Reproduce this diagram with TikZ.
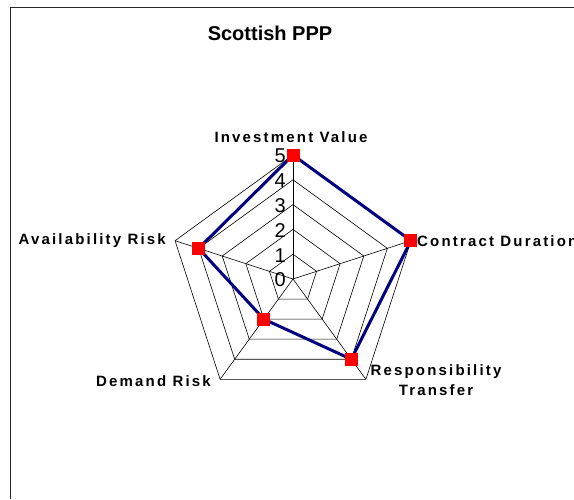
\documentclass[tikz,border=0pt]{standalone}
\usepackage{fontspec}
\setmainfont{Liberation Sans}
\definecolor{navyline}{RGB}{0,0,128}
\begin{document}
\begin{tikzpicture}[x=1pt,y=-1pt,
  gridline/.style={black, line width=0.6pt, line join=miter},
  series/.style={draw=navyline, line width=3pt, line join=round},
  marker/.style={fill=red, minimum size=13pt, inner sep=0pt, draw=none},
  axlabel/.style={font=\fontsize{15}{18}\selectfont\bfseries\addfontfeature{LetterSpace=14.5}, inner sep=0pt, align=center},
  scalelabel/.style={font=\fontsize{20}{22}\selectfont, inner sep=0pt, anchor=east},
  titlelabel/.style={font=\fontsize{20}{22}\selectfont\bfseries, inner sep=0pt}]
\useasboundingbox (0,0) rectangle (574,499);
\fill[white] (0,0) rectangle (574,499);
\coordinate (fbl) at (10,499);
\coordinate (ftl) at (10,7);
\coordinate (ftr) at (574,7);
\draw[line width=1pt, black!85] (fbl) -- (ftl) -- (ftr);
\node[titlelabel] (title) at (270,33) {Scottish PPP};
\begin{scope}[shift={(293,279)}]
  \coordinate (O) at (0,0);
  \foreach \k in {0,...,4} {
    \pgfmathsetmacro{\ang}{90-72*\k}
    \coordinate (ax\k) at (\ang:124pt);
  }
  \foreach \l in {1,...,5} {
    \pgfmathsetmacro{\rr}{\l*24.8}
    \draw[gridline] (90:\rr pt) -- (18:\rr pt) -- (-54:\rr pt) -- (-126:\rr pt) -- (162:\rr pt) -- cycle;
  }
  \foreach \k in {0,...,4} {
    \draw[gridline] (O) -- (ax\k);
  }
  \foreach \l in {0,...,5} {
    \node[scalelabel] (s\l) at (-7,-\l*24.8+1) {\l};
  }
  \foreach \k/\v in {0/5,1/5,2/4,3/2,4/4} {
    \pgfmathsetmacro{\ang}{90-72*\k}
    \pgfmathsetmacro{\rr}{\v*24.8}
    \coordinate (d\k) at (\ang:\rr pt);
  }
  \draw[series] (d0) -- (d1) -- (d2) -- (d3) -- (d4) -- cycle;
  \foreach \k in {0,...,4} {
    \node[marker] (m\k) at (d\k) {};
  }
\end{scope}
\node[axlabel] (lab0) at (291,137) {Investment Value};
\node[axlabel, anchor=west] (lab1) at (417,241) {Contract Duration};
\node[axlabel] (lab2) at (436,380) {Responsibility\\[2pt]Transfer};
\node[axlabel, anchor=east] (lab3) at (211,381) {Demand Risk};
\node[axlabel, anchor=east] (lab4) at (166,241) {Availability Risk};
\end{tikzpicture}
\end{document}
